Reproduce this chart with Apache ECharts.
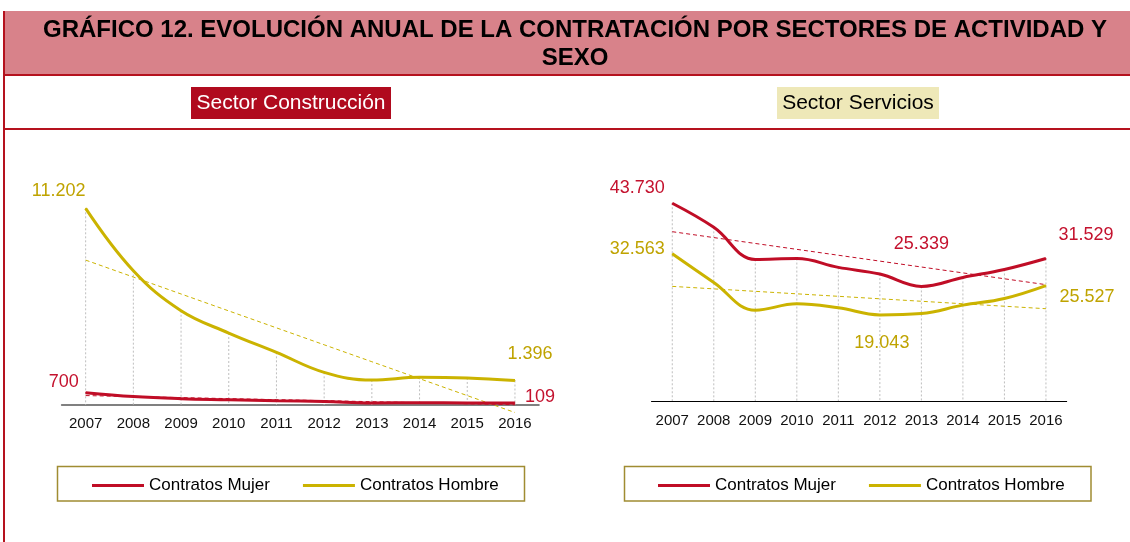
<!DOCTYPE html>
<html>
<head>
<meta charset="utf-8">
<script src="https://cdn.jsdelivr.net/npm/echarts@6/dist/echarts.min.js"></script>
<style>
  html, body { margin: 0; padding: 0; background: #fff; }
  #chart { width: 1130px; height: 542px; }
</style>
</head>
<body>
<div id="chart"></div>
<script>
const years = ['2007', '2008', '2009', '2010', '2011', '2012', '2013', '2014', '2015', '2016']
const legendNames = ['Contratos Mujer', 'Contratos Hombre']

// Sector Construcción
const construccionMujer = [700, 480, 360, 300, 240, 200, 120, 130, 120, 109]
const construccionHombre = [11202, 7650, 5370, 4100, 3000, 1860, 1420, 1580, 1540, 1396]

// Sector Servicios
const serviciosMujer = [43730, 38410, 31300, 31500, 29550, 28070, 25339, 27330, 29100, 31529]
const serviciosHombre = [32563, 26220, 20090, 21500, 20610, 19043, 19350, 21200, 22680, 25527]

const RED = '#C00D26'
const RED_TXT = '#C4122E'
const YEL = '#CBB300'
const YEL_TXT = '#BFA300'
const FONT = '"Liberation Sans", Arial, sans-serif'

const fmt = v => String(v).replace(/\B(?=(\d{3})+(?!\d))/g, '.')

// linea de tendencia (minimos cuadrados)
function trend(arr) {
    const n = arr.length
    const mx = (n - 1) / 2
    const my = arr.reduce((a, b) => a + b, 0) / n
    let sxy = 0, sxx = 0
    arr.forEach((v, i) => { sxy += (i - mx) * (v - my); sxx += (i - mx) * (i - mx) })
    const m = sxy / sxx
    return arr.map((v, i) => my + m * (i - mx))
}

function withLabels(arr, offsets) {
    return arr.map((v, i) => offsets[i] ? { value: v, label: { show: true, offset: offsets[i] } } : v)
}

function lineSeries(name, data, color, txt, offsets, g) {
    return {
        name, type: 'line', xAxisIndex: g, yAxisIndex: g,
        smooth: 0.4, symbol: 'circle', symbolSize: 1, clip: false,
        lineStyle: { color, width: 3 },
        itemStyle: { color },
        label: { show: false, position: 'inside', color: txt, fontSize: 18, fontFamily: FONT, formatter: p => fmt(p.value) },
        data: withLabels(data, offsets),
        z: 4
    }
}

function trendSeries(data, color, g) {
    return {
        type: 'line', xAxisIndex: g, yAxisIndex: g, symbol: 'none', silent: true, clip: false,
        lineStyle: { color, width: 1, type: [4, 3] },
        data: trend(data), z: 3
    }
}

function dropSeries(a, b, g) {
    return {
        type: 'custom', xAxisIndex: g, yAxisIndex: g, silent: true, z: 1,
        data: a.map((v, i) => [i, Math.max(v, b[i])]),
        renderItem: (params, api) => {
            const top = api.coord([api.value(0), api.value(1)])
            const base = api.coord([api.value(0), 0])
            return {
                type: 'line',
                shape: { x1: top[0], y1: top[1], x2: base[0], y2: base[1] },
                style: { stroke: '#BEBEBE', lineWidth: 1, lineDash: [2, 2] }
            }
        }
    }
}

const axisX = (g, lineColor, lineWidth, margin) => ({
    gridIndex: g, type: 'category', data: years, boundaryGap: true,
    axisTick: { show: false },
    axisLine: { lineStyle: { color: lineColor, width: lineWidth } },
    axisLabel: { color: '#111', fontSize: 15, fontFamily: FONT, margin, interval: 0 }
})

const legendBox = left => ({
    data: legendNames, left, top: 477, padding: 0, icon: 'rect',
    itemWidth: 52, itemHeight: 3, itemGap: 33,
    textStyle: { fontSize: 17, color: '#000', fontFamily: FONT }
})

const chart = echarts.init(document.getElementById('chart'))

chart.setOption({
    animation: false,
    graphic: [
        { type: 'rect', shape: { x: 4, y: 11, width: 1126, height: 64 }, style: { fill: '#D8828A' } },
        { type: 'rect', shape: { x: 3, y: 74, width: 1127, height: 2 }, style: { fill: '#B5121E' } },
        { type: 'rect', shape: { x: 3, y: 128, width: 1127, height: 2 }, style: { fill: '#B5121E' } },
        { type: 'rect', shape: { x: 3, y: 11, width: 2, height: 531 }, style: { fill: '#B5121E' } },
        { type: 'text', x: 575, y: 30, style: { text: 'GRÁFICO 12. EVOLUCIÓN ANUAL DE LA CONTRATACIÓN POR SECTORES DE ACTIVIDAD Y', fill: '#000', font: 'bold 24px ' + FONT, textAlign: 'center', textVerticalAlign: 'middle' } },
        { type: 'text', x: 575, y: 58, style: { text: 'SEXO', fill: '#000', font: 'bold 24px ' + FONT, textAlign: 'center', textVerticalAlign: 'middle' } },
        { type: 'rect', shape: { x: 191, y: 87, width: 200, height: 32 }, style: { fill: '#B00A1E' } },
        { type: 'text', x: 291, y: 103, style: { text: 'Sector Construcción', fill: '#fff', font: '21px ' + FONT, textAlign: 'center', textVerticalAlign: 'middle' } },
        { type: 'rect', shape: { x: 777, y: 87, width: 162, height: 32 }, style: { fill: '#EEE8B8' } },
        { type: 'text', x: 858, y: 103, style: { text: 'Sector Servicios', fill: '#000', font: '21px ' + FONT, textAlign: 'center', textVerticalAlign: 'middle' } },
        { type: 'rect', shape: { x: 57.5, y: 466.5, width: 467, height: 34.5 }, style: { fill: 'none', stroke: '#A08C32', lineWidth: 1.5 } },
        { type: 'rect', shape: { x: 624.5, y: 466.5, width: 466.5, height: 34.5 }, style: { fill: 'none', stroke: '#A08C32', lineWidth: 1.5 } }
    ],
    legend: [legendBox(92), legendBox(658)],
    grid: [
        { left: 61.8, top: 194.3, width: 477, height: 210.7 },
        { left: 651.5, top: 193, width: 415.2, height: 208 }
    ],
    xAxis: [axisX(0, '#808080', 2, 11.5), axisX(1, '#000', 1, 12)],
    yAxis: [
        { gridIndex: 0, type: 'value', min: 0, max: 12000, show: false },
        { gridIndex: 1, type: 'value', min: 0, max: 46000, show: false }
    ],
    series: [
        dropSeries(construccionMujer, construccionHombre, 0),
        trendSeries(construccionHombre, YEL, 0),
        trendSeries(construccionMujer, RED, 0),
        lineSeries('Contratos Mujer', construccionMujer, RED, RED_TXT, { 0: [-22, -11], 9: [25, -6] }, 0),
        lineSeries('Contratos Hombre', construccionHombre, YEL, YEL_TXT, { 0: [-27, -17], 9: [15, -26] }, 0),

        dropSeries(serviciosMujer, serviciosHombre, 1),
        trendSeries(serviciosMujer, RED, 1),
        trendSeries(serviciosHombre, YEL, 1),
        lineSeries('Contratos Mujer', serviciosMujer, RED, RED_TXT, { 0: [-35, -15], 6: [0, -42], 9: [40, -23] }, 1),
        lineSeries('Contratos Hombre', serviciosHombre, YEL, YEL_TXT, { 0: [-35, -5], 5: [2, 28], 9: [41, 11] }, 1)
    ]
})

window.addEventListener('resize', () => chart.resize())
</script>
</body>
</html>
